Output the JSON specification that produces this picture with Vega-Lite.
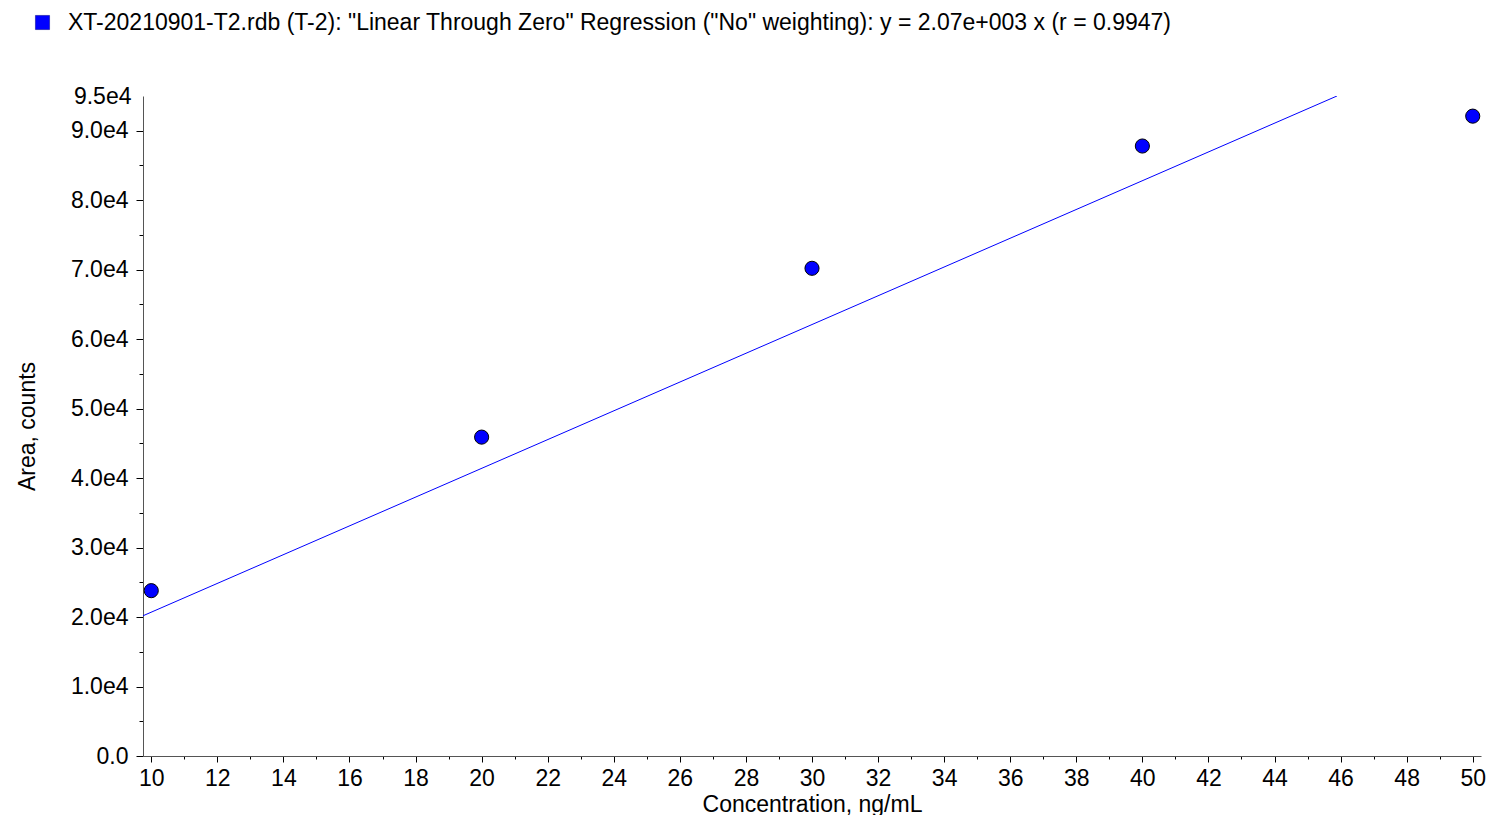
{
  "$schema": "https://vega.github.io/schema/vega-lite/v6.json",
  "width": 1338,
  "height": 660,
  "autosize": {"type": "none"},
  "padding": {"left": 143, "top": 96, "right": 14, "bottom": 59},
  "background": "white",
  "config": {"view": {"stroke": null}, "font": "Liberation Sans"},
  "datasets": {
    "points": [
      {"conc": 10, "area": 23800},
      {"conc": 20, "area": 45900},
      {"conc": 30, "area": 70200},
      {"conc": 40, "area": 87800},
      {"conc": 50, "area": 92100}
    ],
    "fit": [
      {"conc": 9.75, "area": 20183},
      {"conc": 45.89, "area": 95000}
    ]
  },
  "encoding": {
    "x": {
      "field": "conc",
      "type": "quantitative",
      "scale": {"domain": [9.75, 50.25], "nice": false, "zero": false},
      "axis": {
        "title": "Concentration, ng/mL",
        "values": [10,11,12,13,14,15,16,17,18,19,20,21,22,23,24,25,26,27,28,29,30,31,32,33,34,35,36,37,38,39,40,41,42,43,44,45,46,47,48,49,50],
        "labelExpr": "datum.value % 2 === 0 ? datum.label : ''",
        "tickSize": {"condition": {"test": "datum.value % 2 === 0", "value": 6}, "value": 3},
        "tickColor": "black",
        "domainColor": "#555555",
        "grid": false,
        "labelFontSize": 23,
        "labelColor": "black",
        "labelPadding": 5,
        "labelFlush": false,
        "labelOverlap": false,
        "titleFontSize": 23,
        "titleFontWeight": "normal",
        "titleColor": "black",
        "titlePadding": 3
      }
    },
    "y": {
      "field": "area",
      "type": "quantitative",
      "scale": {"domain": [0, 95000], "nice": false},
      "axis": {
        "title": "Area, counts",
        "values": [0,5000,10000,15000,20000,25000,30000,35000,40000,45000,50000,55000,60000,65000,70000,75000,80000,85000,90000,95000],
        "labelExpr": "datum.value % 10000 === 0 || datum.value === 95000 ? (datum.value === 0 ? '0.0' : format(datum.value / 10000, '.1f') + 'e4') : ''",
        "tickSize": {"condition": {"test": "datum.value % 10000 === 0", "value": 7}, "value": 4},
        "tickOpacity": {"condition": {"test": "datum.value === 95000", "value": 0}, "value": 1},
        "tickColor": "black",
        "domainColor": "#555555",
        "grid": false,
        "labelFontSize": 23,
        "labelColor": "black",
        "labelPadding": 8,
        "labelFlush": false,
        "labelOverlap": false,
        "titleFontSize": 23,
        "titleFontWeight": "normal",
        "titleColor": "black",
        "titlePadding": 31
      }
    }
  },
  "layer": [
    {
      "data": {"name": "fit"},
      "mark": {"type": "line", "color": "#0000FF", "strokeWidth": 1, "clip": true}
    },
    {
      "data": {"name": "points"},
      "mark": {"type": "point", "shape": "circle", "filled": true, "size": 200, "stroke": "black", "strokeWidth": 1, "opacity": 1},
      "encoding": {
        "color": {
          "datum": "XT-20210901-T2.rdb (T-2): \"Linear Through Zero\" Regression (\"No\" weighting): y = 2.07e+003 x (r = 0.9947)",
          "type": "nominal",
          "scale": {"range": ["#0000FF"]},
          "legend": {
            "title": null,
            "orient": "none",
            "legendX": -112,
            "legendY": -85,
            "padding": 0,
            "symbolType": "square",
            "symbolSize": 200,
            "symbolStrokeColor": "#000080",
            "symbolStrokeWidth": 0.5,
            "symbolOpacity": 1,
            "labelFontSize": 23,
            "labelColor": "black",
            "labelLimit": 0,
            "labelOffset": 14
          }
        }
      }
    }
  ]
}
